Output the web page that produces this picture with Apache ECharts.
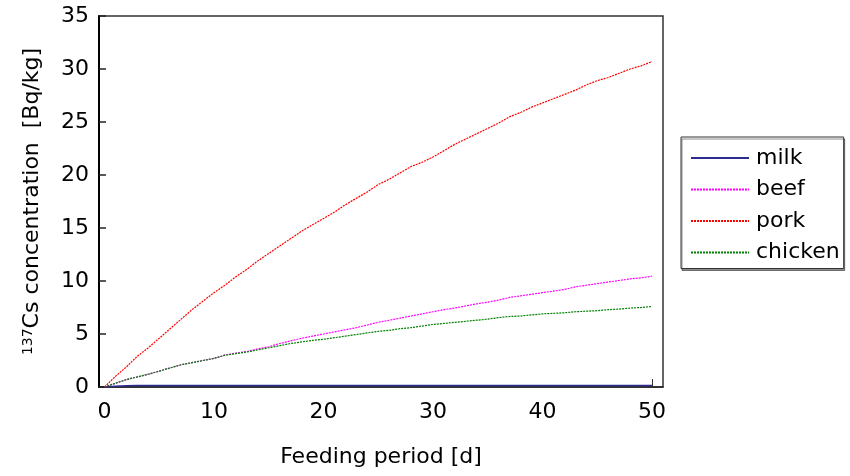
<!DOCTYPE html>
<html>
<head>
<meta charset="utf-8">
<script src="https://cdn.jsdelivr.net/npm/echarts@6/dist/echarts.min.js"></script>
<style>
  html, body { margin: 0; padding: 0; background: #fff; }
  #chart { width: 850px; height: 476px; }
</style>
</head>
<body>
<div id="chart"></div>
<script>
// feeding period in days
var days = [];
for (var d = 0; d <= 50; d++) days.push(d);

// 137Cs concentration [Bq/kg]
var milk = [0, 0.07, 0.12, 0.14, 0.15, 0.15, 0.15, 0.15, 0.15, 0.15, 0.15,
  0.15, 0.15, 0.15, 0.15, 0.15, 0.15, 0.15, 0.15, 0.15, 0.15,
  0.15, 0.15, 0.15, 0.15, 0.15, 0.15, 0.15, 0.15, 0.15, 0.15,
  0.15, 0.15, 0.15, 0.15, 0.15, 0.15, 0.15, 0.15, 0.15, 0.15,
  0.15, 0.15, 0.15, 0.15, 0.15, 0.15, 0.15, 0.15, 0.15, 0.15];
var beef = [0, 0.35, 0.7, 0.95, 1.2, 1.5, 1.8, 2.1, 2.3, 2.5, 2.7,
  3.0, 3.2, 3.35, 3.6, 3.8, 4.1, 4.35, 4.6, 4.8, 5.0,
  5.2, 5.4, 5.6, 5.85, 6.1, 6.3, 6.5, 6.7, 6.9, 7.1,
  7.3, 7.45, 7.65, 7.85, 8.0, 8.2, 8.45, 8.6, 8.75, 8.9,
  9.05, 9.2, 9.45, 9.6, 9.75, 9.9, 10.05, 10.2, 10.3, 10.45];
var pork = [0, 1.0, 1.9, 2.9, 3.7, 4.6, 5.5, 6.4, 7.3, 8.1, 8.9,
  9.6, 10.4, 11.1, 11.9, 12.6, 13.3, 14.0, 14.7, 15.3, 15.9,
  16.5, 17.2, 17.8, 18.4, 19.1, 19.6, 20.2, 20.8, 21.2, 21.7,
  22.3, 22.9, 23.4, 23.9, 24.4, 24.9, 25.5, 25.9, 26.4, 26.8,
  27.2, 27.6, 28.0, 28.5, 28.9, 29.2, 29.6, 30.0, 30.3, 30.7];
var chicken = [0, 0.35, 0.7, 0.95, 1.2, 1.5, 1.8, 2.1, 2.3, 2.5, 2.7,
  3.0, 3.15, 3.3, 3.5, 3.7, 3.9, 4.1, 4.25, 4.4, 4.5,
  4.65, 4.8, 4.95, 5.1, 5.25, 5.35, 5.5, 5.6, 5.75, 5.9,
  6.0, 6.1, 6.2, 6.3, 6.4, 6.55, 6.65, 6.7, 6.8, 6.9,
  6.95, 7.0, 7.1, 7.15, 7.2, 7.3, 7.35, 7.45, 7.5, 7.6];

var xTicks = [0, 10, 20, 30, 40, 50];
var fontName = "DejaVu Sans";

function pairs(vals) {
  return days.map(function (d, i) { return [d, vals[i]]; });
}

var myChart = echarts.init(document.getElementById("chart"));

var option = {
  backgroundColor: "#fff",
  animation: false,
  textStyle: { fontFamily: fontName },
  grid: {
    left: 99,
    right: 187,
    top: 16,
    bottom: 89,
    show: true,
    borderColor: "#333",
    borderWidth: 1.5,
    backgroundColor: "#fff",
  },
  legend: {
    orient: "vertical",
    left: 681,
    top: 137,
    padding: [10, 4, 5, 9],
    itemWidth: 58,
    itemHeight: 14,
    itemGap: 9.5,
    borderColor: "#333",
    borderWidth: 1,
    shadowColor: "rgba(0,0,0,0.45)",
    shadowOffsetX: 1,
    shadowOffsetY: 2,
    backgroundColor: "#fff",
    itemStyle: { opacity: 0 },
    textStyle: { fontSize: 22, color: "#000", fontFamily: fontName, lineHeight: 22, padding: [0, 0, 0, 2] },
    data: ["milk", "beef", "pork", "chicken"],
  },
  xAxis: {
    type: "value",
    min: -0.5,
    max: 51,
    name: "Feeding period [d]",
    nameLocation: "middle",
    nameGap: 59,
    nameTextStyle: { fontSize: 22, color: "#000", fontFamily: fontName },
    axisLine: { show: true, onZero: false, lineStyle: { color: "#222", width: 1.5 } },
    axisTick: { show: true, inside: true, length: 8, customValues: [50], lineStyle: { color: "#333" } },
    axisLabel: { customValues: xTicks, fontSize: 22, color: "#000", margin: 14, fontFamily: fontName },
    splitLine: { show: false },
  },
  yAxis: {
    type: "value",
    min: 0,
    max: 35,
    interval: 5,
    name: "{sup|137}Cs concentration  [Bq/kg]",
    nameLocation: "middle",
    nameGap: 56,
    nameTextStyle: {
      fontSize: 22,
      color: "#000",
      fontFamily: fontName,
      rich: {
        sup: { fontSize: 14, verticalAlign: "top", color: "#000", fontFamily: fontName },
      },
    },
    axisLine: { show: true, onZero: false, lineStyle: { color: "#000", width: 2 } },
    axisTick: { show: true, inside: true, length: 7, lineStyle: { color: "#222", width: 1.5 } },
    axisLabel: { fontSize: 22, color: "#000", margin: 10, fontFamily: fontName },
    splitLine: { show: false },
  },
  series: [
    {
      name: "milk",
      type: "line",
      data: pairs(milk),
      symbol: "none",
      lineStyle: { color: "#2b2b90", width: 1.5 },
      itemStyle: { color: "#5a5ab0" },
    },
    {
      name: "beef",
      type: "line",
      data: pairs(beef),
      symbol: "none",
      lineStyle: { color: "#ff00ff", width: 1.2, type: [2, 1] },
      itemStyle: { color: "#ff00ff" },
    },
    {
      name: "pork",
      type: "line",
      data: pairs(pork),
      symbol: "none",
      lineStyle: { color: "#ff0000", width: 1.2, type: [2, 1] },
      itemStyle: { color: "#ff0000" },
    },
    {
      name: "chicken",
      type: "line",
      data: pairs(chicken),
      symbol: "none",
      lineStyle: { color: "#008000", width: 1.2, type: [2, 1] },
      itemStyle: { color: "#008000" },
    },
  ],
};

myChart.setOption(option);
window.onresize = function () {
  myChart.resize();
};
</script>
</body>
</html>
